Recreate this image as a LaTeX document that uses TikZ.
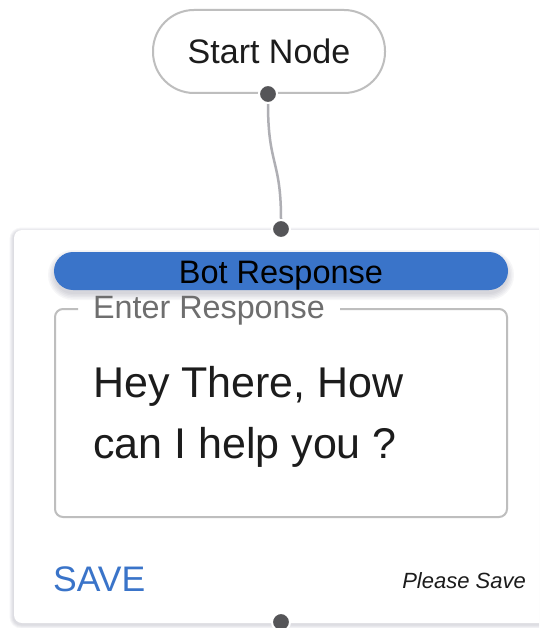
\documentclass[tikz,border=0pt]{standalone}
\usepackage{fontspec}
\setmainfont{Liberation Sans}

\definecolor{pillblue}{RGB}{58,116,201}
\definecolor{edgegray}{RGB}{175,175,180}
\definecolor{bordergray}{RGB}{190,190,190}
\definecolor{dotgray}{RGB}{85,85,88}
\definecolor{labelgray}{RGB}{110,110,110}
\definecolor{inkblack}{RGB}{28,28,28}
\definecolor{shadowtint}{RGB}{60,60,90}

\tikzset{
  startbox/.style={draw=bordergray, line width=2pt, fill=white, rounded corners=41pt,
    minimum width=232pt, minimum height=83pt, inner sep=0pt,
    font=\fontsize{34}{34}\selectfont, text=inkblack},
  card/.style={fill=white, rounded corners=8pt},
  softshade/.style={fill=shadowtint, fill opacity=0.045},
  pill/.style={fill=pillblue, rounded corners=19pt, minimum width=454pt,
    minimum height=38pt, inner sep=0pt},
  pilltext/.style={inner sep=0pt, font=\fontsize{32.5}{32.5}\selectfont, text=black},
  fieldbox/.style={draw=bordergray, line width=2pt, rounded corners=8pt},
  fieldlabel/.style={inner sep=0pt, font=\fontsize{32.3}{32.3}\selectfont, text=labelgray},
  bodytext/.style={inner sep=0pt, font=\fontsize{43}{43}\selectfont, text=inkblack},
  savebtn/.style={inner sep=0pt, font=\fontsize{35.5}{35.5}\selectfont, text=pillblue},
  hint/.style={inner sep=0pt, font=\fontsize{22}{22}\selectfont\itshape, text=inkblack},
  port/.style={circle, fill=dotgray, draw=white, line width=2pt, minimum size=18pt,
    inner sep=0pt},
  link/.style={draw=edgegray, line width=2.5pt},
}

\begin{document}
\begin{tikzpicture}[x=1pt, y=-1pt]
  \useasboundingbox (0,0) rectangle (539,628);
  \clip (0,0) rectangle (539,628);
  \fill[white] (0,0) rectangle (539,628);

  % soft shadow under the card
  \foreach \s in {0.5,1.5,2.5,3.5} {
    \fill[softshade, rounded corners=8pt+\s pt]
      (14-1-\s,230+1-\s) rectangle (580,623+2+\s);
  }
  % response card, running off the right edge
  \path[card] (14,230) rectangle (580,623);

  % start node
  \node[startbox] (start) at (269,51.5) {Start Node};

  % card header with its shadow
  \foreach \s in {0,1.5,3,4.5,6} {
    \fill[softshade, rounded corners=19pt+\s pt]
      (54-\s,252+4-\s) rectangle (508+\s,290+4+\s);
  }
  \node[pill] (header) at (281,271) {};
  \node[pilltext, anchor=base] (headertext) at (281,283) {Bot Response};

  % outlined input field, its top border broken by the floating label
  \draw[fieldbox] (78,309) -- (55,309) -- (55,517) -- (507,517) -- (507,309) -- (340,309);
  \node[fieldlabel, anchor=base west] (fieldname) at (93,318) {Enter Response};
  \node[bodytext, anchor=base west] (line1) at (93,397) {Hey There, How};
  \node[bodytext, anchor=base west] (line2) at (93,458) {can I help you ?};

  % footer
  \node[savebtn, anchor=base west] (save) at (53,591) {SAVE};
  \node[hint, anchor=base east] (hint) at (526,588) {Please Save};

  % ports
  \node[port] (out) at (268,94) {};
  \node[port] (in) at (281,229) {};
  \node[port] (next) at (281,622) {};

  % connector
  \path[link] (out) .. controls (268,165) and (281,160) .. (in);
  \node[port] at (out) {};
  \node[port] at (in) {};
\end{tikzpicture}
\end{document}
